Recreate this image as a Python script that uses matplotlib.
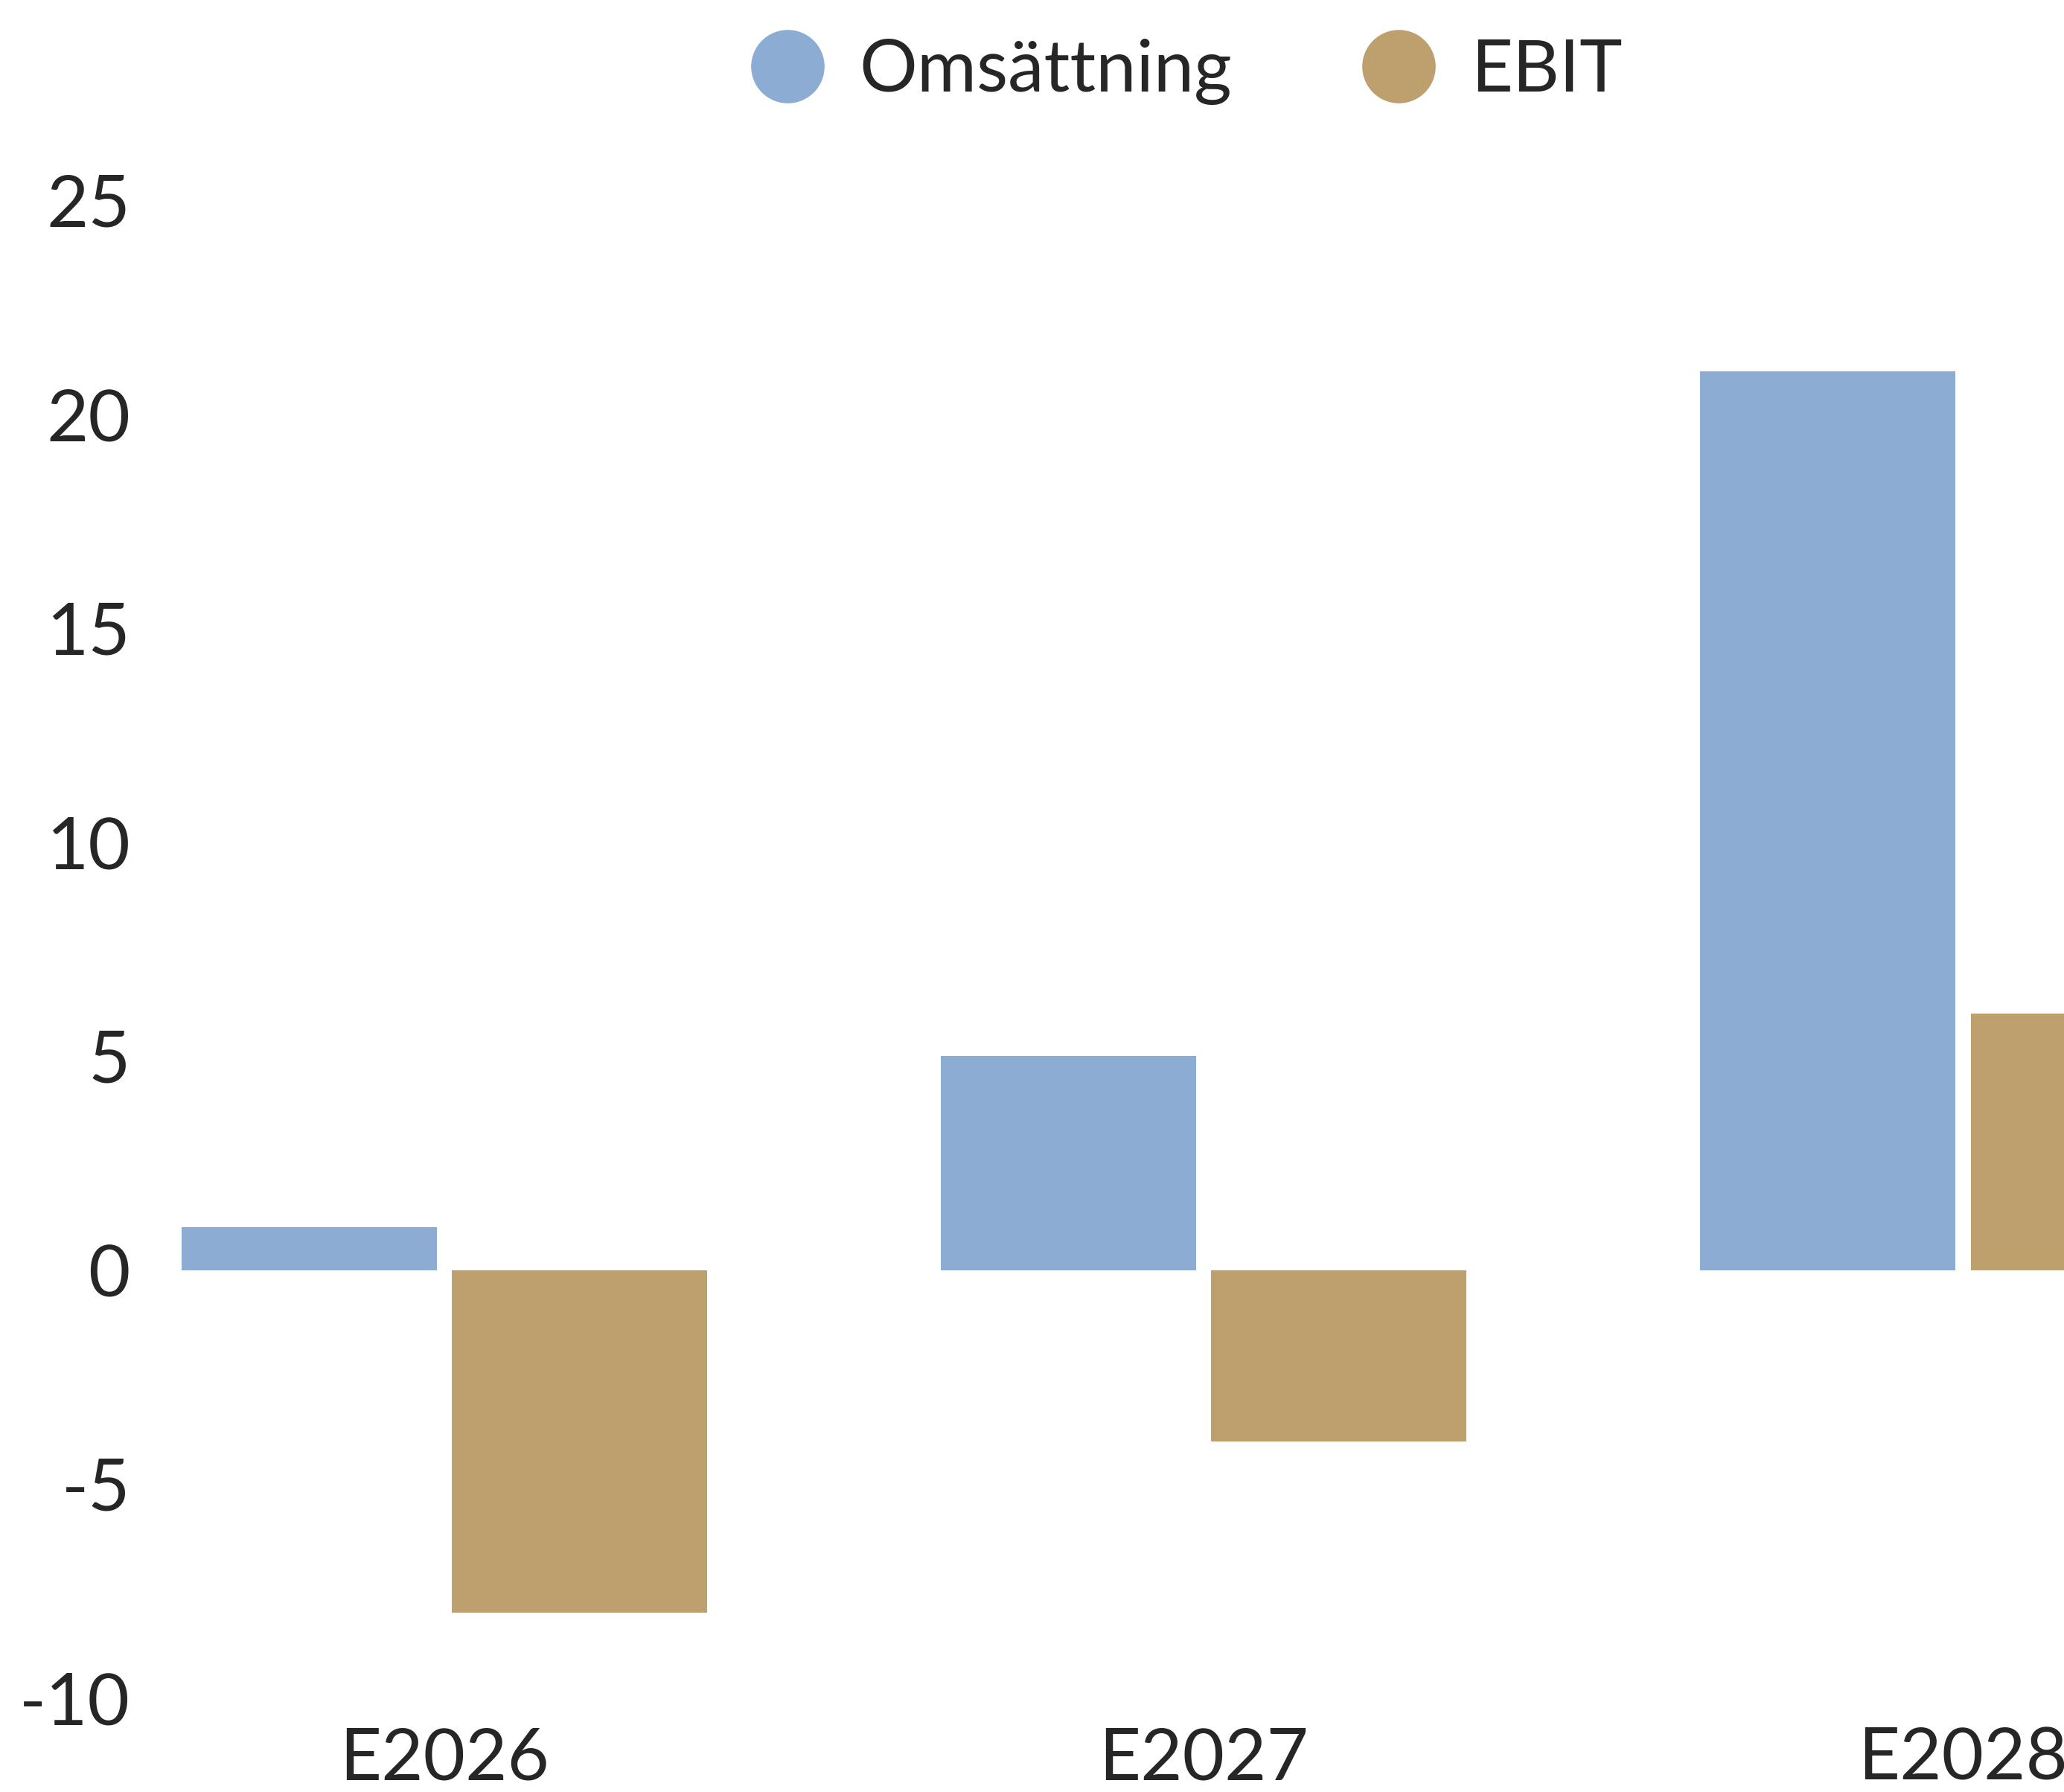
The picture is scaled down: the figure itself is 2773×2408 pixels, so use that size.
import matplotlib
matplotlib.use("Agg")
import matplotlib.pyplot as plt
from matplotlib.lines import Line2D
import numpy as np

# data
years = ["E2026", "E2027", "E2028"]
omsattning = [1.0, 5.0, 21.0]
ebit = [-8.0, -4.0, 6.0]
yticks = [-10, -5, 0, 5, 10, 15, 20, 25]

blue = "#8dacd3"
tan = "#bea06f"
text_col = "#262626"

plt.rcParams["font.family"] = ["Lato", "DejaVu Sans"]
plt.rcParams["axes.unicode_minus"] = False

fig = plt.figure(figsize=(27.73, 24.08), dpi=100)
ax = fig.add_axes([0.0721, 0.0523, 1 - 0.0721, 0.836])

x = np.arange(len(years))
w = 0.336
off = 0.178
ax.bar(x - off, omsattning, width=w, color=blue, label="Omsättning")
ax.bar(x + off, ebit, width=w, color=tan, label="EBIT")

ax.set_xlim(-0.389, 2.133)
ax.set_ylim(-10, 25)
ax.set_yticks(yticks)
ax.set_yticklabels([str(t) for t in yticks])
ax.set_xticks(x)
ax.set_xticklabels(years)

ax.tick_params(axis="both", length=0, labelsize=70, colors=text_col)
ax.tick_params(axis="y", pad=18)
ax.tick_params(axis="x", pad=28)
for s in ax.spines.values():
    s.set_visible(False)

# legend with round markers
handles = [
    Line2D([], [], marker="o", linestyle="", markersize=70, color=blue, label="Omsättning"),
    Line2D([], [], marker="o", linestyle="", markersize=70, color=tan, label="EBIT"),
]
fig.legend(handles=handles, loc="center", bbox_to_anchor=(0.575, 0.960), ncol=2,
           frameon=False, fontsize=70, handlelength=1.0, handletextpad=0.5,
           columnspacing=1.8, labelcolor=text_col)

fig.savefig("out.png", dpi=100, facecolor="white")
